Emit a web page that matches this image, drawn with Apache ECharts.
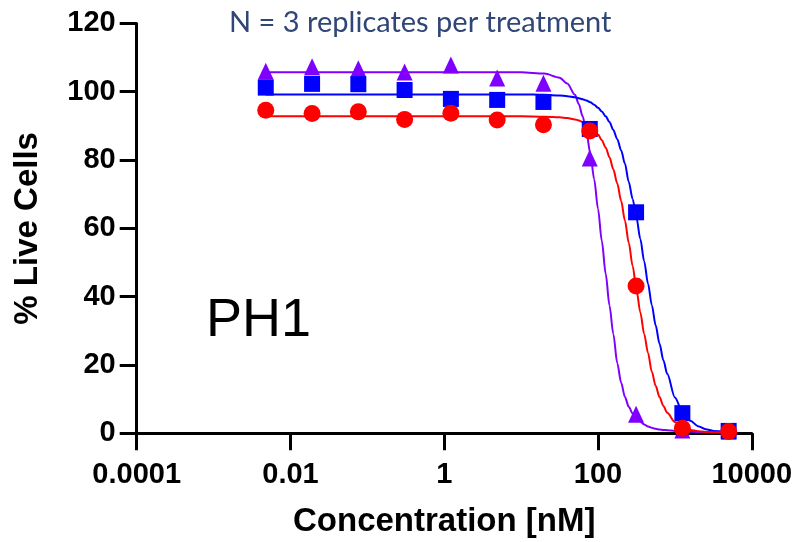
<!DOCTYPE html>
<html>
<head>
<meta charset="utf-8">
<script src="https://cdn.jsdelivr.net/npm/echarts@6/dist/echarts.min.js"></script>
<style>
  html, body { margin: 0; padding: 0; background: #fff; }
  #chart-container { width: 800px; height: 542px; }
</style>
</head>
<body>
<div id="chart-container"></div>
<script>
// measured points (nM, % live cells)
var concentrations = [0.00477, 0.0191, 0.0763, 0.305, 1.22, 4.88, 19.5, 78.1, 312.5, 1250, 5000];
var redPoints = [94.6, 93.6, 94.1, 91.9, 93.7, 91.7, 90.3, 88.5, 43.1, 1.5, 0.5];
var bluePoints = [101.2, 102.3, 102.2, 100.5, 97.9, 97.6, 97.0, 89.1, 64.7, 5.9, 0.7];
var purplePoints = [106.0, 107.3, 106.7, 105.8, 107.8, 104.0, 102.5, 80.6, 5.6, 1.0, 0.6];

// fitted curves
var curveConc = [0.00477, 10, 20, 31.6, 39.8, 50.1, 56.2, 63.1, 70.8, 79.4, 89.1, 100, 112, 126, 141, 158, 178, 200, 224, 251, 282, 316, 355, 398, 447, 501, 562, 631, 708, 794, 1000, 1259, 1585, 1995, 2512, 3162, 5000];
var redCurve = [92.8, 92.8, 92.7, 92.5, 92.3, 91.9, 91.6, 91.1, 90.6, 89.8, 88.8, 87.5, 85.8, 83.6, 80.8, 77.3, 73.1, 68.0, 62.2, 55.8, 49.0, 42.1, 35.4, 29.1, 23.5, 18.0, 13.9, 10.6, 8.0, 6.0, 3.3, 1.8, 1.0, 0.6, 0.4, 0.3, 0.3];
var blueCurve = [99.2, 99.2, 99.1, 98.9, 98.7, 98.4, 98.1, 97.8, 97.4, 96.9, 96.2, 95.3, 94.2, 92.8, 91.1, 88.8, 86.1, 82.8, 78.9, 73.6, 68.6, 63.1, 56.9, 50.4, 43.8, 37.5, 31.6, 26.2, 21.4, 17.4, 10.5, 6.2, 3.7, 2.1, 1.2, 0.7, 0.3];
var purpleCurve = [105.7, 105.7, 105.3, 104.1, 102.4, 99.1, 96.4, 92.8, 88.0, 81.9, 74.4, 65.7, 56.3, 46.6, 37.4, 29.1, 20.5, 14.8, 10.6, 7.8, 5.8, 4.4, 3.4, 2.6, 2.0, 1.6, 1.3, 1.1, 1.0, 0.9, 0.7, 0.6, 0.5, 0.4, 0.4, 0.3, 0.3];

var xTickLabels = ['0.0001', '0.01', '1', '100', '10000'];

var red = '#ff0000';
var blue = '#0000ff';
var purple = '#8000ff';

function pairs(xs, ys) {
    return xs.map(function (x, i) { return [x, ys[i]]; });
}

function curve(name, ys, color) {
    return {
        name: name,
        type: 'line',
        data: pairs(curveConc, ys),
        showSymbol: false,
        smooth: 0.3,
        smoothMonotone: 'x',
        lineStyle: { color: color, width: 2 },
        silent: true,
        z: 2
    };
}

function points(name, ys, color, symbol, size) {
    return {
        name: name,
        type: 'scatter',
        data: pairs(concentrations, ys),
        symbol: symbol,
        symbolSize: size,
        itemStyle: { color: color, opacity: 1 },
        z: 3
    };
}

var dom = document.getElementById('chart-container');
var myChart = echarts.init(dom, null, { renderer: 'canvas' });

var axisFont = 'Liberation Sans, Arial, sans-serif';

var option = {
    animation: false,
    backgroundColor: '#ffffff',
    title: {
        text: 'N = 3 replicates per treatment',
        left: 224,
        top: 3,
        textStyle: {
            fontFamily: 'Lato, sans-serif',
            fontSize: 29,
            fontWeight: 'normal',
            color: '#2f4676'
        }
    },
    graphic: [
        {
            type: 'text',
            left: 206,
            top: 294,
            style: {
                text: 'PH1',
                fontFamily: axisFont,
                fontSize: 54,
                fill: '#000'
            }
        }
    ],
    grid: {
        left: 136.7,
        right: 48.2,
        top: 23.4,
        bottom: 108.7,
        outerBoundsMode: 'none'
    },
    xAxis: {
        type: 'log',
        logBase: 10,
        min: 0.0001,
        max: 10000,
        interval: 2,
        name: 'Concentration [nM]',
        nameLocation: 'middle',
        nameGap: 72,
        nameTextStyle: { fontFamily: axisFont, fontSize: 33, fontWeight: 'bold', color: '#000' },
        axisLine: { show: true, lineStyle: { color: '#000', width: 3 } },
        axisTick: { show: true, length: 17, lineStyle: { color: '#000', width: 3 } },
        minorTick: { show: false },
        splitLine: { show: false },
        axisLabel: {
            margin: 27,
            fontFamily: axisFont,
            fontSize: 29,
            fontWeight: 'bold',
            color: '#000',
            formatter: function (v, i) { return xTickLabels[i]; }
        }
    },
    yAxis: {
        type: 'value',
        min: 0,
        max: 120,
        interval: 20,
        name: '% Live Cells',
        nameLocation: 'middle',
        nameRotate: 90,
        nameGap: 92,
        nameTextStyle: { fontFamily: axisFont, fontSize: 33, fontWeight: 'bold', color: '#000' },
        axisLine: { show: true, lineStyle: { color: '#000', width: 3 } },
        axisTick: { show: true, length: 17, lineStyle: { color: '#000', width: 3 } },
        splitLine: { show: false },
        axisLabel: {
            margin: 21,
            fontFamily: axisFont,
            fontSize: 29,
            fontWeight: 'bold',
            color: '#000'
        }
    },
    series: [
        curve('PH1 c', purpleCurve, purple),
        curve('PH1 b', blueCurve, blue),
        curve('PH1 a', redCurve, red),
        points('PH1 c', purplePoints, purple, 'triangle', [16, 17]),
        points('PH1 b', bluePoints, blue, 'rect', 16),
        points('PH1 a', redPoints, red, 'circle', 17)
    ]
};

myChart.setOption(option);
window.addEventListener('resize', myChart.resize);
</script>
</body>
</html>
